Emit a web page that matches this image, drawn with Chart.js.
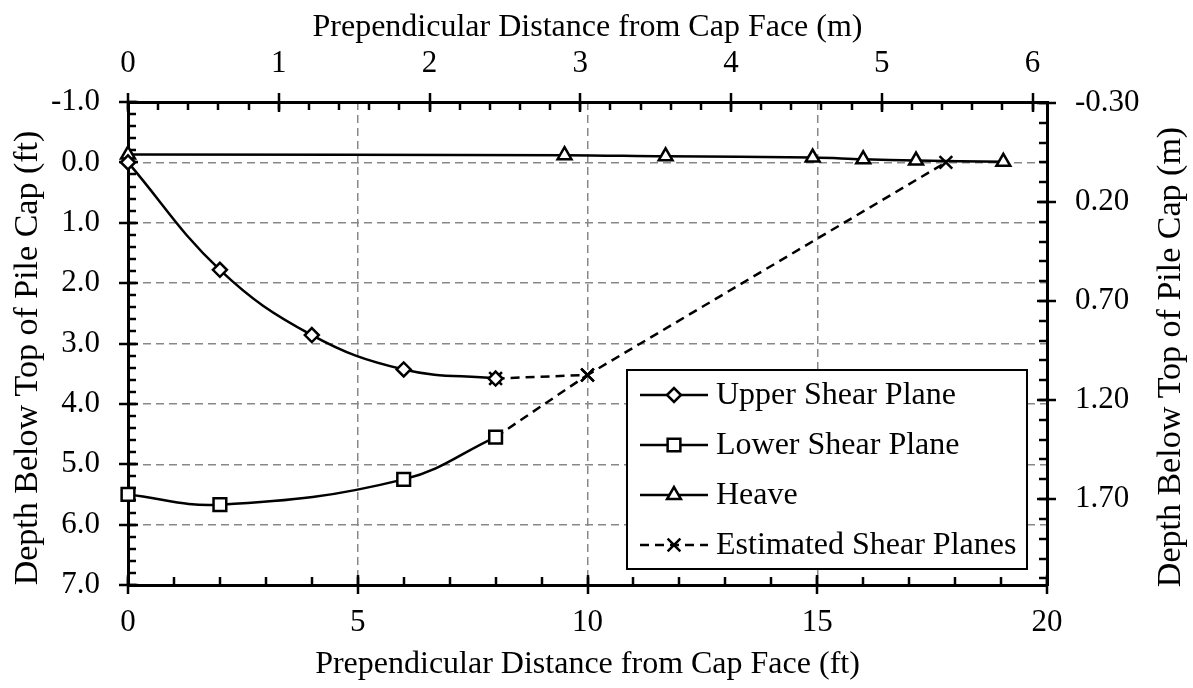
<!DOCTYPE html>
<html>
<head>
<meta charset="utf-8">
<script src="https://cdn.jsdelivr.net/npm/chart.js@4.4.1/dist/chart.umd.min.js"></script>
<style>
  html, body { margin: 0; padding: 0; background: #fff; }
</style>
</head>
<body>
<canvas id="shearChart" width="1193" height="688"></canvas>
<script>
// Shear planes behind pile cap — depth vs distance from cap face
const upperX = [0, 2, 4, 6, 8];
const upperDepth = [0.0, 1.78, 2.86, 3.43, 3.58];

const lowerX = [0, 2, 6, 8];
const lowerDepth = [5.5, 5.67, 5.25, 4.55];

const heaveX = [0, 9.5, 11.7, 14.9, 16.0, 17.15, 19.05];
const heaveDepth = [-0.13, -0.12, -0.1, -0.08, -0.05, -0.03, -0.01];

// estimated planes (drawn as two dashed pieces that meet at 10 ft)
const estUpperX = [8, 10, 17.8];
const estUpperDepth = [3.58, 3.52, 0.0];
const estLowerX = [8, 10];
const estLowerDepth = [4.55, 3.52];

// tick labels
const ftTicks = [0, 5, 10, 15, 20];
const mTicks = [0, 1, 2, 3, 4, 5, 6];
const depthFtTicks = [-1, 0, 1, 2, 3, 4, 5, 6, 7];
const depthMTicks = [-0.3, 0.2, 0.7, 1.2, 1.7];

const FT_TO_M = 0.3048;
const FONT = '"Liberation Serif", "Times New Roman", serif';
const TICK_SIZE = 31;
const TITLE_SIZE = 32;
const V_TITLE_SIZE = 34;
const LEFT_TITLE = "Depth Below Top of Pile Cap (ft)";
const RIGHT_TITLE = "Depth Below Top of Pile Cap (m)";

function pts(xs, ys) {
  return xs.map((x, i) => ({ x: x, y: ys[i] }));
}

function setTicks(values) {
  return (scale) => {
    scale.ticks = values.map((v) => ({ value: v }));
  };
}

const lineBase = {
  showLine: true,
  clip: false,
  borderColor: "#000",
  borderWidth: 2.5,
  pointBackgroundColor: "#fff",
  pointBorderColor: "#000",
  pointBorderWidth: 2.5,
};

function vTitle(ctx, text, x, y) {
  ctx.save();
  ctx.translate(x, y);
  ctx.rotate(-Math.PI / 2);
  ctx.fillStyle = "#000";
  ctx.font = V_TITLE_SIZE + "px " + FONT;
  ctx.textAlign = "center";
  ctx.textBaseline = "middle";
  ctx.fillText(text, 0, 0);
  ctx.restore();
}

// minor / major tick marks (major cross the axis, minor point inward)
const axisTicks = {
  id: "axisTicks",
  beforeDatasetsDraw(chart) {
    const { ctx, chartArea, scales } = chart;
    const specs = [
      { s: scales.x, pos: chartArea.bottom, dir: -1, minor: 1, start: 0 },
      { s: scales.x2, pos: chartArea.top, dir: 1, minor: 0.2, start: 0 },
      { s: scales.y, pos: chartArea.left, dir: 1, minor: 0.2, start: -1 },
      { s: scales.y2, pos: chartArea.right, dir: -1, minor: 0.1, start: -0.3 },
    ];
    ctx.save();
    ctx.strokeStyle = "#000";
    ctx.lineWidth = 2.5;
    specs.forEach((sp) => {
      const horiz = sp.s.isHorizontal();
      const mark = (v, a, b) => {
        const p = Math.round(sp.s.getPixelForValue(v));
        ctx.beginPath();
        if (horiz) {
          ctx.moveTo(p, sp.pos + a);
          ctx.lineTo(p, sp.pos + b);
        } else {
          ctx.moveTo(sp.pos + a, p);
          ctx.lineTo(sp.pos + b, p);
        }
        ctx.stroke();
      };
      for (let v = sp.start; v <= sp.s.max + 1e-6; v += sp.minor) {
        mark(v, 0, 8 * sp.dir);
      }
      sp.s.ticks.forEach((t) => mark(t.value, -9 * sp.dir, 10 * sp.dir));
    });
    ctx.restore();

    // both depth titles read bottom-to-top
    vTitle(ctx, LEFT_TITLE, 28, 358);
    vTitle(ctx, RIGHT_TITLE, 1171, 357);
  },
};

// boxed legend like the original
const boxLegend = {
  id: "boxLegend",
  afterDraw(chart) {
    const ctx = chart.ctx;
    const items = [0, 1, 2, 3];
    ctx.save();
    ctx.fillStyle = "#fff";
    ctx.fillRect(627, 370, 400, 199);
    ctx.strokeStyle = "#000";
    ctx.lineWidth = 2;
    ctx.strokeRect(627, 370, 400, 199);
    items.forEach((idx, i) => {
      const ds = chart.data.datasets[idx];
      const y = 395 + i * 50;
      ctx.strokeStyle = "#000";
      ctx.lineWidth = 2.5;
      ctx.setLineDash(ds.borderDash || []);
      ctx.beginPath();
      ctx.moveTo(640, y);
      ctx.lineTo(708, y);
      ctx.stroke();
      ctx.setLineDash([]);
      ctx.fillStyle = "#fff";
      Chart.helpers.drawPoint(ctx, {
        pointStyle: ds.pointStyle,
        radius: ds.pointRadius,
        borderWidth: 2.5,
        rotation: 0,
      }, 674, y);
      ctx.fillStyle = "#000";
      ctx.font = TITLE_SIZE + "px " + FONT;
      ctx.textBaseline = "middle";
      ctx.fillText(ds.label, 716, y + 1);
    });
    ctx.restore();
  },
};

const gridDash = [8, 5];

new Chart(document.getElementById("shearChart"), {
  type: "scatter",
  data: {
    datasets: [
      {
        ...lineBase,
        label: "Upper Shear Plane",
        data: pts(upperX, upperDepth),
        pointStyle: "rectRot",
        pointRadius: 7,
        tension: 0.4,
      },
      {
        ...lineBase,
        label: "Lower Shear Plane",
        data: pts(lowerX, lowerDepth),
        pointStyle: "rect",
        pointRadius: 9,
        tension: 0.4,
      },
      {
        ...lineBase,
        label: "Heave",
        data: pts(heaveX, heaveDepth),
        pointStyle: "triangle",
        pointRadius: 8,
        tension: 0.4,
      },
      {
        ...lineBase,
        label: "Estimated Shear Planes",
        data: pts(estUpperX, estUpperDepth),
        pointStyle: "crossRot",
        pointRadius: 9,
        borderDash: [9, 6],
        tension: 0,
      },
      {
        ...lineBase,
        label: "Estimated Shear Planes (lower)",
        data: pts(estLowerX, estLowerDepth),
        pointStyle: "crossRot",
        pointRadius: 9,
        borderDash: [9, 6],
        tension: 0,
      },
    ],
  },
  options: {
    responsive: false,
    animation: false,
    layout: { padding: 0 },
    scales: {
      x: {
        type: "linear",
        position: "bottom",
        min: 0,
        max: 20,
        afterBuildTicks: setTicks(ftTicks),
        afterFit: (s) => { s.height = 103; },
        grid: { color: "#888", lineWidth: 1.5, drawTicks: false },
        border: { color: "#000", width: 3, dash: gridDash },
        ticks: {
          color: "#000",
          padding: 19,
          maxRotation: 0,
          font: { family: FONT, size: TICK_SIZE },
          callback: (v) => String(v),
        },
        title: {
          display: true,
          text: "Prependicular Distance from Cap Face (ft)",
          color: "#000",
          font: { family: FONT, size: TITLE_SIZE },
          padding: { top: 0, bottom: 4 },
        },
      },
      x2: {
        type: "linear",
        position: "top",
        min: 0,
        max: 20 * FT_TO_M,
        afterBuildTicks: setTicks(mTicks),
        afterFit: (s) => { s.height = 102; },
        grid: { drawOnChartArea: false, drawTicks: false },
        border: { color: "#000", width: 3 },
        ticks: {
          color: "#000",
          padding: 20,
          maxRotation: 0,
          font: { family: FONT, size: TICK_SIZE },
          callback: (v) => String(v),
        },
        title: {
          display: true,
          text: "Prependicular Distance from Cap Face (m)",
          color: "#000",
          font: { family: FONT, size: TITLE_SIZE },
          padding: { top: 8, bottom: 0 },
        },
      },
      y: {
        type: "linear",
        position: "left",
        reverse: true,
        min: -1,
        max: 7,
        afterBuildTicks: setTicks(depthFtTicks),
        afterFit: (s) => { s.width = 128; },
        grid: { color: "#888", lineWidth: 1.5, drawTicks: false },
        border: { color: "#000", width: 3, dash: gridDash },
        ticks: {
          color: "#000",
          padding: 28,
          font: { family: FONT, size: TICK_SIZE },
          callback: (v) => v.toFixed(1),
        },
        title: { display: false },
      },
      y2: {
        type: "linear",
        position: "right",
        reverse: true,
        min: -1 * FT_TO_M,
        max: 7 * FT_TO_M,
        afterBuildTicks: setTicks(depthMTicks),
        afterFit: (s) => { s.width = 146; },
        grid: { drawOnChartArea: false, drawTicks: false },
        border: { color: "#000", width: 3 },
        ticks: {
          color: "#000",
          padding: 28,
          font: { family: FONT, size: TICK_SIZE },
          callback: (v) => v.toFixed(2),
        },
        title: { display: false },
      },
    },
    plugins: {
      legend: { display: false },
      tooltip: { enabled: false },
    },
  },
  plugins: [axisTicks, boxLegend],
});
</script>
</body>
</html>
